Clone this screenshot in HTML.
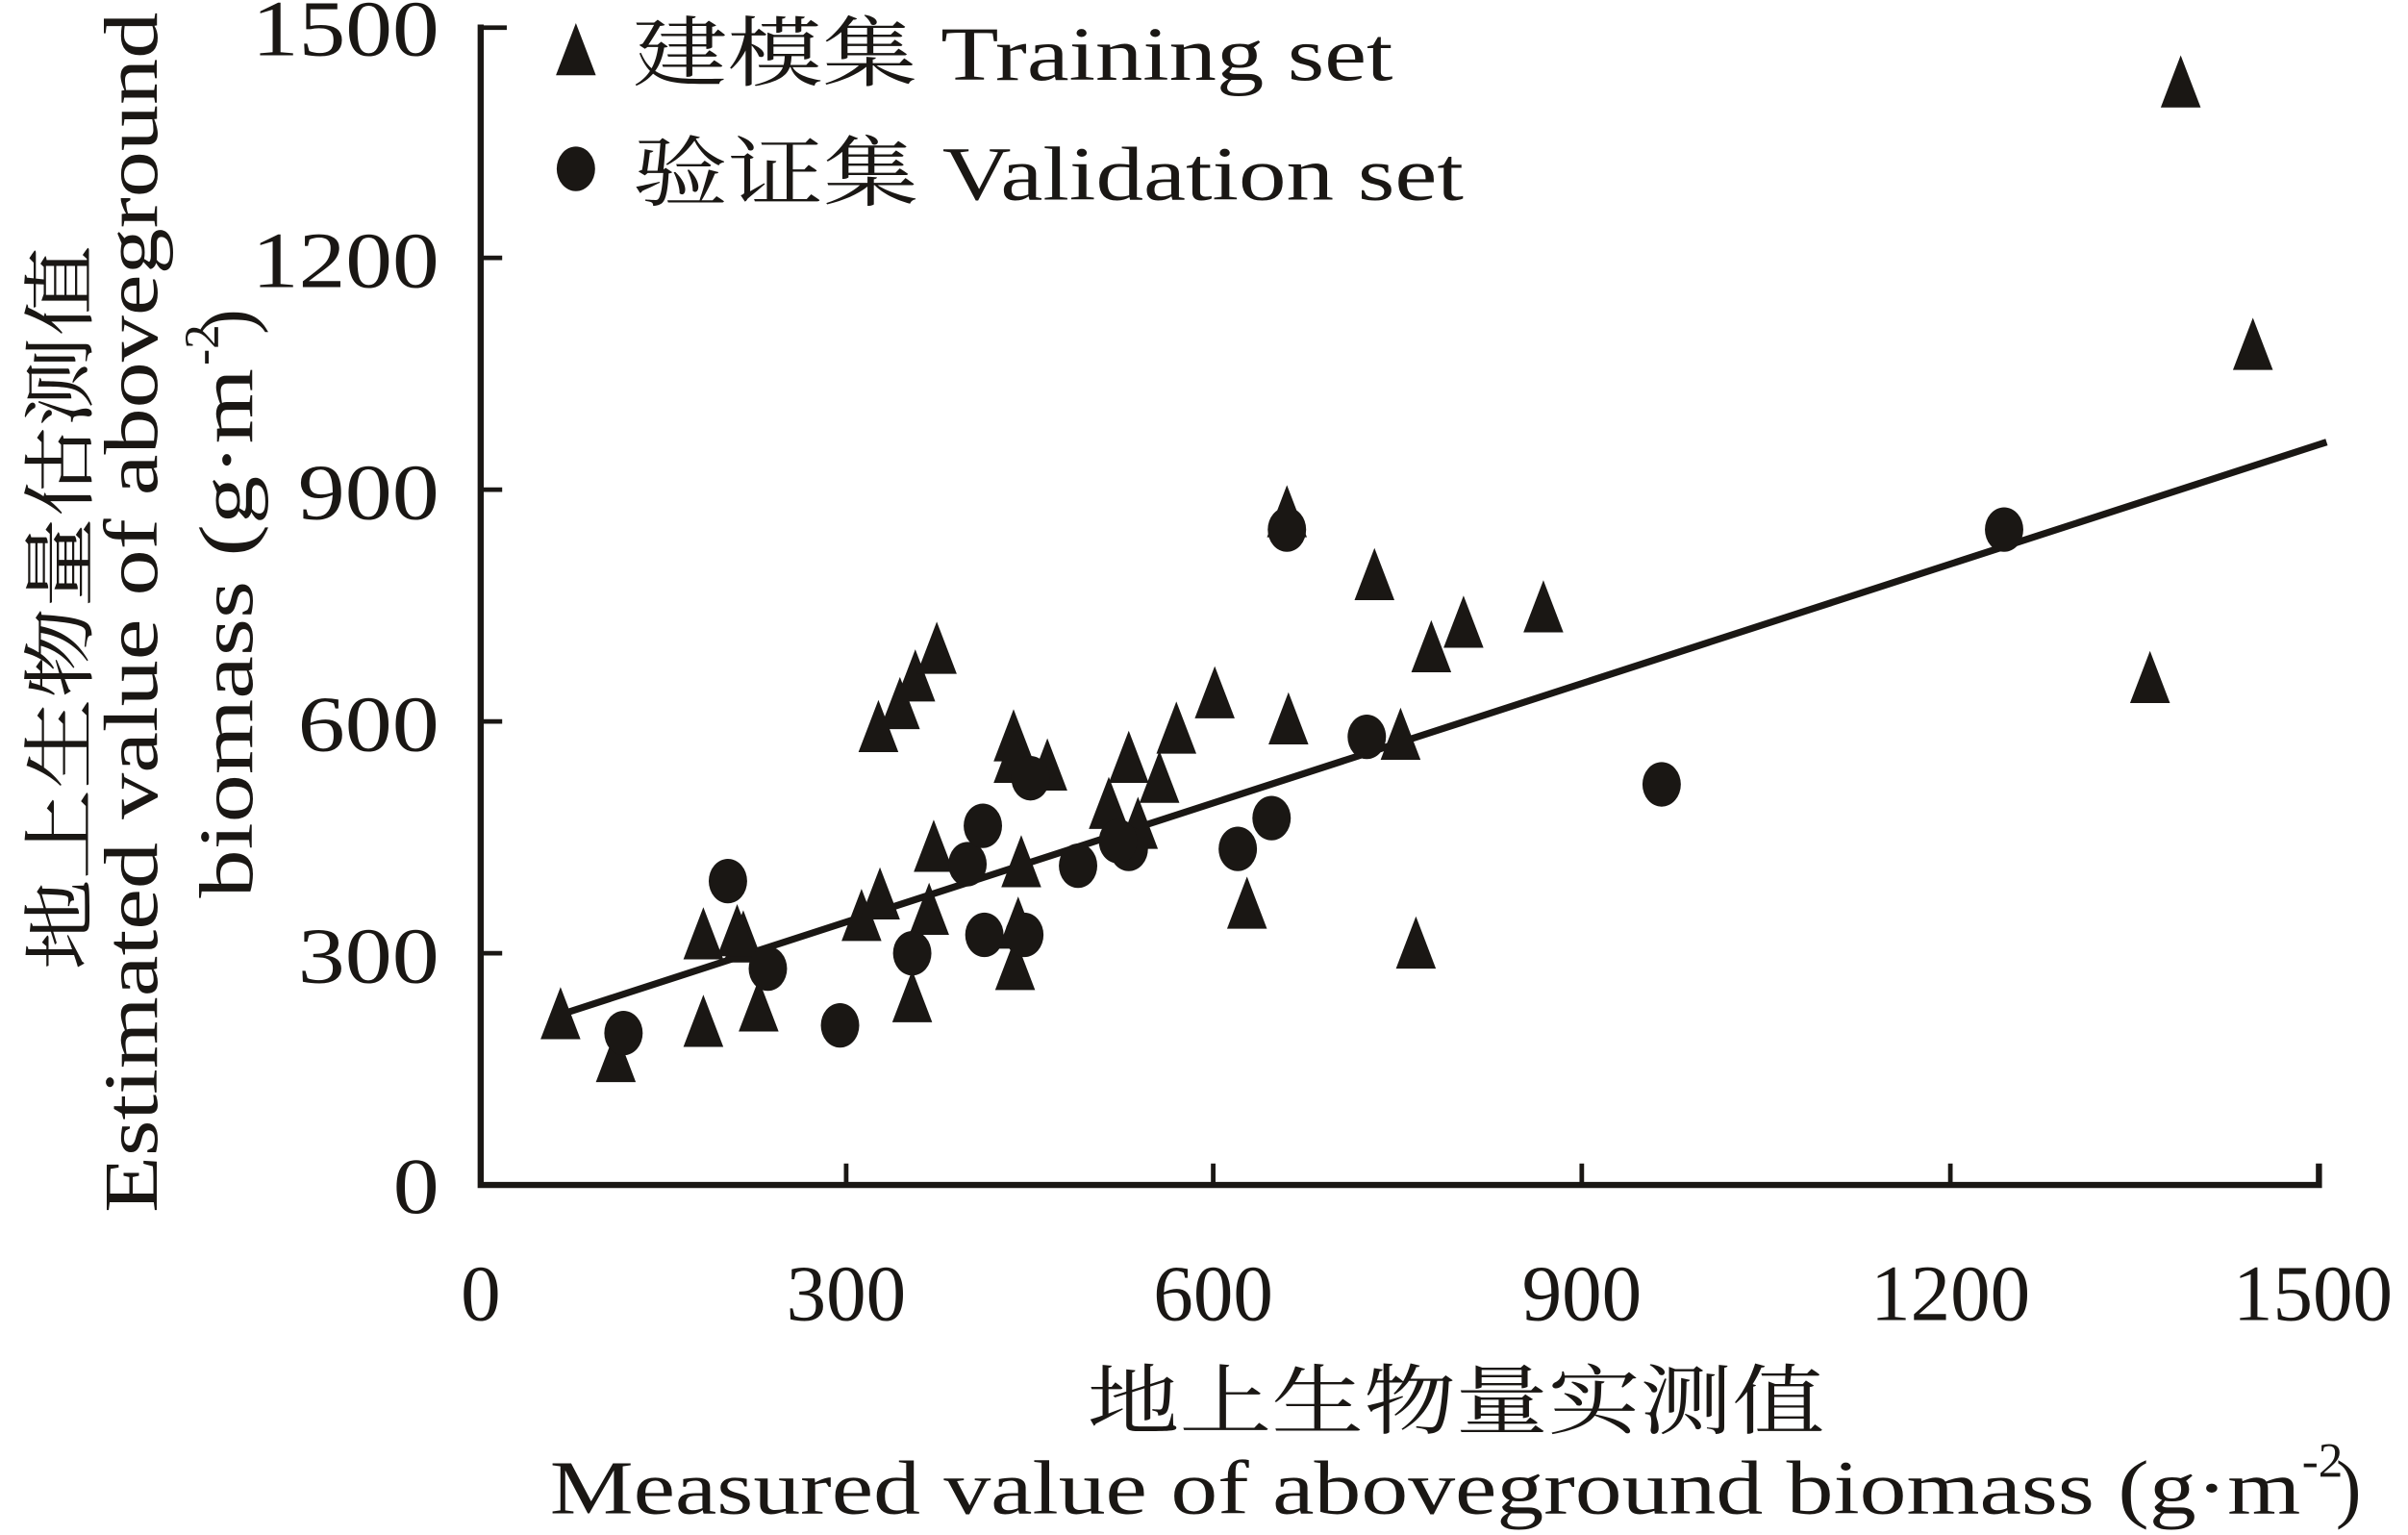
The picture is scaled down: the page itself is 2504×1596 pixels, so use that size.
<!DOCTYPE html>
<html><head><meta charset="utf-8"><style>
html,body{margin:0;padding:0;background:#fff;}
svg{display:block;}
text{font-family:"Liberation Serif","Noto Serif CJK SC",serif;fill:#1a1714;}
</style></head><body>
<svg width="2504" height="1596" viewBox="0 0 1568 1000" preserveAspectRatio="none" xmlns="http://www.w3.org/2000/svg">
<defs>
<path id="t" d="M0,-19 L13,15 L-13,15 Z" fill="#1a1714"/>
<ellipse id="c" cx="0" cy="0" rx="12.5" ry="14.5" fill="#1a1714"/>
</defs>
<!-- axes -->
<path d="M313,16 L313,772 L1510,772 L1510,758" fill="none" stroke="#1a1714" stroke-width="4"/>
<g stroke="#1a1714" stroke-width="3">
<line x1="313" y1="18" x2="330" y2="18"/>
<line x1="313" y1="168" x2="327" y2="168"/>
<line x1="313" y1="319" x2="327" y2="319"/>
<line x1="313" y1="470" x2="327" y2="470"/>
<line x1="313" y1="621" x2="327" y2="621"/>
<line x1="551" y1="772" x2="551" y2="758"/>
<line x1="790" y1="772" x2="790" y2="758"/>
<line x1="1030" y1="772" x2="1030" y2="758"/>
<line x1="1270" y1="772" x2="1270" y2="758"/>
</g>
<!-- y tick labels -->
<g font-size="52" text-anchor="end">
<text x="286" y="36" textLength="122" lengthAdjust="spacingAndGlyphs">1500</text>
<text x="286" y="187" textLength="122" lengthAdjust="spacingAndGlyphs">1200</text>
<text x="286" y="338" textLength="92" lengthAdjust="spacingAndGlyphs">900</text>
<text x="286" y="489" textLength="92" lengthAdjust="spacingAndGlyphs">600</text>
<text x="286" y="640" textLength="92" lengthAdjust="spacingAndGlyphs">300</text>
<text x="286" y="790" textLength="30" lengthAdjust="spacingAndGlyphs">0</text>
</g>
<!-- x tick labels -->
<g font-size="52" text-anchor="middle">
<text x="313" y="860">0</text>
<text x="551" y="860">300</text>
<text x="790" y="860">600</text>
<text x="1030" y="860">900</text>
<text x="1270" y="860">1200</text>
<text x="1506" y="860">1500</text>
</g>
<!-- x title -->
<text x="708" y="930" font-size="50" textLength="480" lengthAdjust="spacingAndGlyphs">地上生物量实测值</text>
<text x="358" y="986" font-size="50" textLength="1140" lengthAdjust="spacingAndGlyphs">Measured value of aboveground biomass (g·m</text>
<text x="1499" y="962" font-size="32">-2</text>
<text x="1521" y="986" font-size="50">)</text>
<!-- y title -->
<text transform="translate(56,632) rotate(-90)" font-size="48" textLength="472" lengthAdjust="spacingAndGlyphs">地上生物量估测值</text>
<text transform="translate(102,790) rotate(-90)" font-size="50" textLength="782" lengthAdjust="spacingAndGlyphs">Estimated value of aboveground</text>
<text transform="translate(164,585) rotate(-90)" font-size="50" textLength="345" lengthAdjust="spacingAndGlyphs">biomass (g·m</text>
<text transform="translate(142,238) rotate(-90)" font-size="32">-2</text>
<text transform="translate(164,218) rotate(-90)" font-size="50">)</text>
<!-- legend -->
<use href="#t" x="375" y="34"/>
<text x="412" y="52" font-size="50" textLength="495" lengthAdjust="spacingAndGlyphs">建模集 Training set</text>
<use href="#c" x="375" y="110"/>
<text x="412" y="130" font-size="50" textLength="541" lengthAdjust="spacingAndGlyphs">验证集 Validation set</text>
<!-- regression line -->
<line x1="368" y1="660" x2="1515" y2="288" stroke="#1a1714" stroke-width="4.5"/>
<!-- triangles -->
<g>
<use href="#t" x="365" y="662"/><use href="#t" x="401" y="690"/>
<use href="#t" x="458" y="610"/><use href="#t" x="458" y="667"/>
<use href="#t" x="484" y="612"/><use href="#t" x="494" y="657"/>
<use href="#t" x="561" y="598"/><use href="#t" x="573" y="584"/>
<use href="#t" x="572" y="475"/><use href="#t" x="586" y="460"/>
<use href="#t" x="596" y="442"/><use href="#t" x="610" y="424"/>
<use href="#t" x="605" y="594"/><use href="#t" x="608" y="553"/>
<use href="#t" x="594" y="651"/><use href="#t" x="660" y="481"/>
<use href="#t" x="660" y="495"/><use href="#t" x="661" y="630"/>
<use href="#t" x="665" y="563"/><use href="#t" x="682" y="500"/>
<use href="#t" x="722" y="525"/><use href="#t" x="735" y="495"/>
<use href="#t" x="741" y="538"/><use href="#t" x="755" y="508"/>
<use href="#t" x="766" y="476"/><use href="#t" x="791" y="453"/>
<use href="#t" x="838" y="335"/><use href="#t" x="839" y="470"/>
<use href="#t" x="895" y="376"/><use href="#t" x="912" y="480"/>
<use href="#t" x="922" y="616"/><use href="#t" x="932" y="423"/>
<use href="#t" x="953" y="407"/><use href="#t" x="1005" y="397"/>
<use href="#t" x="812" y="590"/><use href="#t" x="1420" y="55"/>
<use href="#t" x="1467" y="226"/><use href="#t" x="1400" y="443"/>
<use href="#t" x="663" y="603"/><use href="#t" x="480" y="608"/>
</g>
<!-- circles -->
<g>
<use href="#c" x="406" y="673"/><use href="#c" x="474" y="574"/>
<use href="#c" x="500" y="631"/><use href="#c" x="547" y="668"/>
<use href="#c" x="594" y="621"/><use href="#c" x="630" y="563"/>
<use href="#c" x="640" y="538"/><use href="#c" x="641" y="609"/>
<use href="#c" x="667" y="609"/><use href="#c" x="671" y="507"/>
<use href="#c" x="702" y="564"/><use href="#c" x="735" y="553"/>
<use href="#c" x="806" y="553"/><use href="#c" x="828" y="533"/>
<use href="#c" x="838" y="345"/><use href="#c" x="890" y="480"/>
<use href="#c" x="1082" y="511"/><use href="#c" x="1305" y="345"/>
<use href="#c" x="728" y="548"/>
</g>
</svg>
</body></html>
